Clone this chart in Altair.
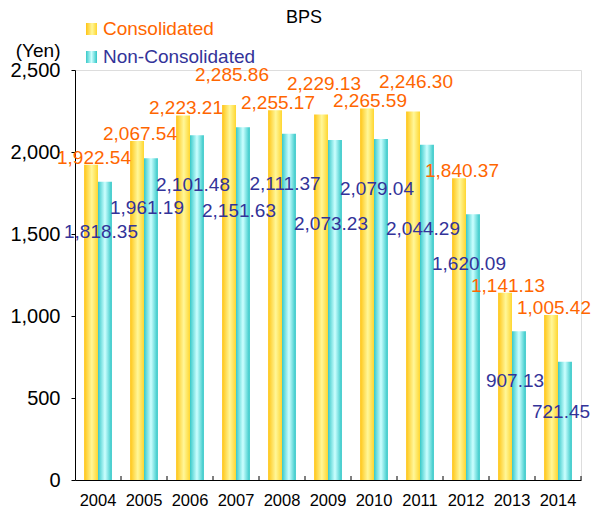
import altair as alt
import pandas as pd

years = [2004, 2005, 2006, 2007, 2008, 2009, 2010, 2011, 2012, 2013, 2014]
consolidated = [1922.54, 2067.54, 2223.21, 2285.86, 2255.17, 2229.13, 2265.59, 2246.30, 1840.37, 1141.13, 1005.42]
non_consolidated = [1818.35, 1961.19, 2101.48, 2151.63, 2111.37, 2073.23, 2079.04, 2044.29, 1620.09, 907.13, 721.45]
series_names = ["Consolidated", "Non-Consolidated"]
y_ticks = [0, 500, 1000, 1500, 2000, 2500]

rows = []
for y, c, n in zip(years, consolidated, non_consolidated):
    rows.append({"year": y, "series": series_names[0], "value": c})
    rows.append({"year": y, "series": series_names[1], "value": n})
df = pd.DataFrame(rows)

ORANGE = "#FF6600"
BLUE = "#333399"
FONT = "Liberation Sans"

grad_c = alt.Gradient(
    gradient="linear", x1=0, x2=1, y1=0, y2=0,
    stops=[alt.GradientStop(color="#FFC414", offset=0),
           alt.GradientStop(color="#FFF799", offset=0.55),
           alt.GradientStop(color="#FFD630", offset=1)],
)
grad_n = alt.Gradient(
    gradient="linear", x1=0, x2=1, y1=0, y2=0,
    stops=[alt.GradientStop(color="#38C9C9", offset=0),
           alt.GradientStop(color="#CCFFFF", offset=0.5),
           alt.GradientStop(color="#30C6C6", offset=1)],
)

W, H = 506, 410

x_enc = alt.X("year:O", title=None,
              scale=alt.Scale(paddingInner=0, paddingOuter=0),
              axis=alt.Axis(labelFontSize=16.5, labelColor="black", labelFont=FONT,
                            labelAngle=0, ticks=False, tickSize=0, labelPadding=12,
                            domainColor="black", domainWidth=1, grid=False))
y_enc = alt.Y("value:Q",
              scale=alt.Scale(domain=[0, 2500], nice=False),
              axis=alt.Axis(values=y_ticks, format=",d", labelFontSize=20, labelColor="black",
                            labelFont=FONT, tickSize=4, tickColor="black", labelPadding=11,
                            domainColor="black", grid=False,
                            title="(Yen)", titleAngle=0, titleAlign="right", titleBaseline="middle",
                            titleX=-15, titleY=-20, titleFontSize=19, titleFontWeight="normal",
                            titleFont=FONT, titleColor="black"))
xoff = alt.XOffset("series:N", scale=alt.Scale(domain=series_names, paddingInner=0, paddingOuter=0.656))

base = alt.Chart(df)

bars_c = base.transform_filter(alt.datum.series == series_names[0]).mark_bar(
    color=grad_c).encode(x=x_enc, y=y_enc, xOffset=xoff)
bars_n = base.transform_filter(alt.datum.series == series_names[1]).mark_bar(
    color=grad_n).encode(x=x_enc, y=y_enc, xOffset=xoff)

ticks = base.transform_filter(alt.datum.series == series_names[0]).mark_rule(
    color="black", strokeWidth=1).encode(
    x=alt.X("year:O", bandPosition=1), y=alt.value(H - 4), y2=alt.value(H))


def labels(series, color, shifted, dy, dx=0):
    # simple collision avoidance: within runs of neighbouring bars of similar height,
    # every second label is moved away from the bar top
    return base.transform_filter(
        alt.datum.series == series
    ).transform_window(
        prev="lag(value)", groupby=["series"], sort=[alt.SortField("year")]
    ).transform_calculate(
        brk="isValid(datum.prev) && abs(datum.value - datum.prev) < 90 ? 0 : 1"
    ).transform_window(
        run="sum(brk)", groupby=["series"], sort=[alt.SortField("year")]
    ).transform_window(
        k="row_number()", groupby=["series", "run"], sort=[alt.SortField("year")]
    ).transform_filter(
        (alt.datum.k % 2 == 0) if shifted else (alt.datum.k % 2 == 1)
    ).mark_text(fontSize=19, font=FONT, color=color, baseline="middle", align="center",
                dy=dy, dx=dx).encode(
        x="year:O", y="value:Q", text=alt.Text("value:Q", format=",.2f"))


lab_c_a = labels(series_names[0], ORANGE, False, -7, -4)
lab_c_b = labels(series_names[0], ORANGE, True, -30, -4)
lab_n_a = labels(series_names[1], BLUE, False, 50, 3)
lab_n_b = labels(series_names[1], BLUE, True, 84, 3)

title = alt.Chart(pd.DataFrame({"t": ["BPS"]})).mark_text(
    fontSize=18, font=FONT, color="black", baseline="middle", align="center").encode(
    text="t:N", x=alt.value(229), y=alt.value(-52))

leg_df = pd.DataFrame({"name": series_names})
leg_sq_c = alt.Chart(leg_df).transform_filter(alt.datum.name == series_names[0]).mark_rect(
    color=grad_c).encode(x=alt.value(11), x2=alt.value(22), y=alt.value(-47), y2=alt.value(-35))
leg_sq_n = alt.Chart(leg_df).transform_filter(alt.datum.name == series_names[1]).mark_rect(
    color=grad_n).encode(x=alt.value(11), x2=alt.value(22), y=alt.value(-19), y2=alt.value(-7))
leg_t_c = alt.Chart(leg_df).transform_filter(alt.datum.name == series_names[0]).mark_text(
    fontSize=19, font=FONT, color=ORANGE, align="left", baseline="middle").encode(
    text="name:N", x=alt.value(28), y=alt.value(-41))
leg_t_n = alt.Chart(leg_df).transform_filter(alt.datum.name == series_names[1]).mark_text(
    fontSize=19, font=FONT, color=BLUE, align="left", baseline="middle").encode(
    text="name:N", x=alt.value(28), y=alt.value(-13))

chart = alt.layer(
    bars_c, bars_n, ticks,
    lab_c_a, lab_c_b, lab_n_a, lab_n_b,
    title, leg_sq_c, leg_sq_n, leg_t_c, leg_t_n,
).properties(
    width=W, height=H,
    autosize=alt.AutoSizeParams(type="none"),
    padding={"left": 67, "top": 62, "right": 10, "bottom": 28},
).configure_view(stroke=None).configure(font=FONT)

chart.save("out.html", embed_options={"renderer": "svg", "actions": False})
